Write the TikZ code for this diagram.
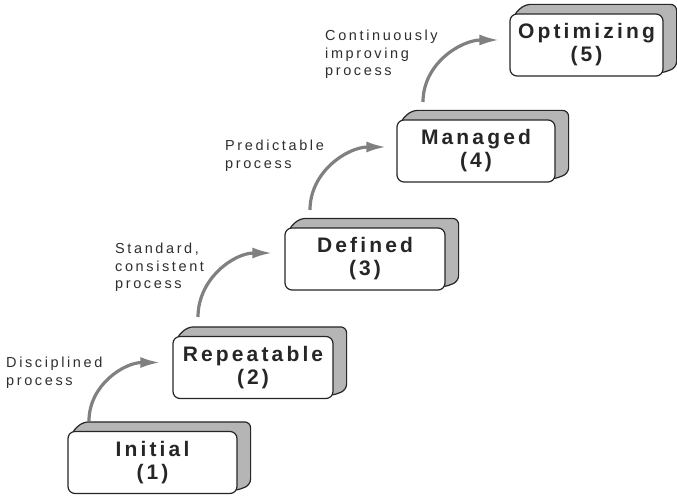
\documentclass[tikz,border=0pt]{standalone}
\usepackage{fontspec}
\setmainfont{Liberation Sans}
\newfontfamily\stagefont[LetterSpace=15]{Liberation Sans}
\newfontfamily\notefont[LetterSpace=18]{Liberation Sans}
\usetikzlibrary{arrows.meta,calc,backgrounds}

% extruded back part of a stage box: top face and right face
\newcommand\stageback[1]{%
  \begin{scope}[on background layer]
    \filldraw[extrude]
      ($(#1.north west)+(3,3)$) -- ($(#1.north west)+(15,-9)$) --
      ($(#1.north east)+(13,-9)$) -- ($(#1.south east)+(13,-9)$) --
      ($(#1.south east)+(-3,-3)$) -- cycle;
  \end{scope}}

\begin{document}
\begin{tikzpicture}[x=1pt,y=-1pt,
  stage/.style={draw=black!85, line width=1.2pt, fill=white,
    rounded corners=7pt, minimum height=62pt, inner sep=0pt, align=center,
    font=\stagefont\bfseries\fontsize{21}{23}\selectfont, text=black!85},
  extrude/.style={fill=black!29, draw=black!85, line width=1.2pt,
    rounded corners=6pt},
  note/.style={anchor=north west, inner sep=0pt, align=left,
    font=\notefont\fontsize{14.5}{17.5}\selectfont, text=black!82},
  flow/.style={draw=black!50, line width=3.2pt,
    -{Latex[length=20pt,width=11pt]}}]
\useasboundingbox (0,0) rectangle (677,497);

% maturity levels
\node[stage, minimum width=169pt] (initial)    at (152.5,462.5) {Initial\\(1)};
\node[stage, minimum width=160pt] (repeatable) at (253,367.5)   {Repeatable\\(2)};
\node[stage, minimum width=160pt] (defined)    at (365,259)     {Defined\\(3)};
\node[stage, minimum width=158pt] (managed)    at (476,151)     {Managed\\(4)};
\node[stage, minimum width=153pt] (optimizing) at (586.5,45)    {Optimizing\\(5)};

\stageback{initial}
\stageback{repeatable}
\stageback{defined}
\stageback{managed}
\stageback{optimizing}

% transitions between levels
\coordinate (s1) at (89,421);
\coordinate (s2) at (198,317);
\coordinate (s3) at (310,210);
\coordinate (s4) at (423,102);

\draw[flow] (s1) to[out=90,in=180] ([xshift=-12pt,yshift=5pt]repeatable.west);
\draw[flow] (s2) to[out=90,in=180] ([xshift=-12pt,yshift=6pt]defined.west);
\draw[flow] (s3) to[out=90,in=180] ([xshift=-10pt,yshift=4pt]managed.west);
\draw[flow] (s4) to[out=90,in=180] ([xshift=-10pt,yshift=5pt]optimizing.west);

% transition labels
\node[note] (n1) at (6,357)   {Disciplined\\process};
\node[note] (n2) at (115,243) {Standard,\\consistent\\process};
\node[note] (n3) at (225,140) {Predictable\\process};
\node[note] (n4) at (325,30)  {Continuously\\improving\\process};
\end{tikzpicture}
\end{document}
